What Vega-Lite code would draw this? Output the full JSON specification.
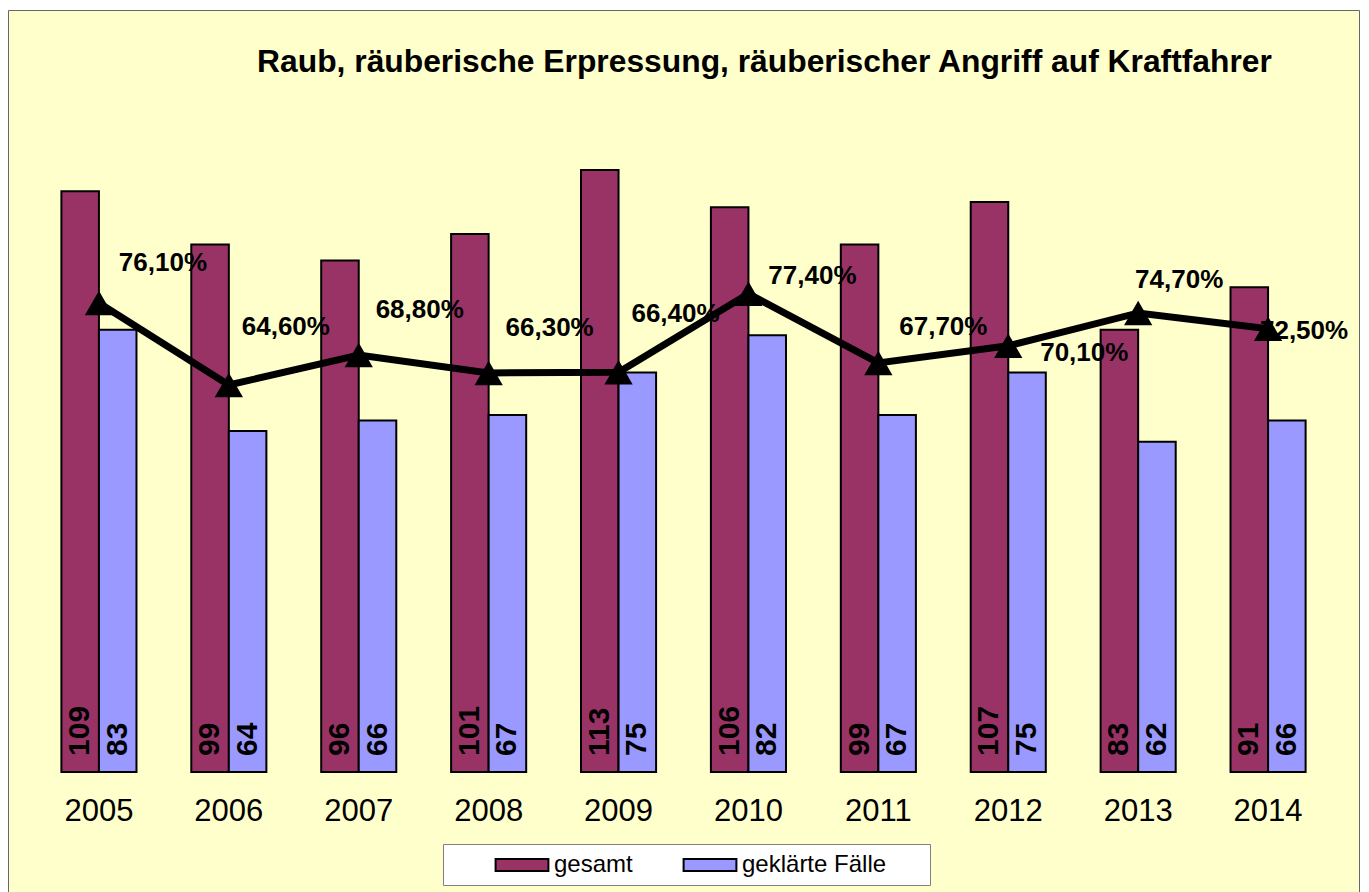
{
  "$schema": "https://vega.github.io/schema/vega-lite/v6.json",
  "width": 1351,
  "height": 882,
  "autosize": "none",
  "padding": {"left": 8, "top": 10, "right": 10, "bottom": 0},
  "background": "white",
  "title": {
    "text": "Raub, räuberische Erpressung, räuberischer Angriff auf Kraftfahrer",
    "anchor": "middle",
    "dx": 81,
    "offset": -94,
    "baseline": "alphabetic",
    "fontSize": 31.8,
    "font": "Liberation Sans",
    "fontWeight": "bold",
    "color": "black"
  },
  "config": {
    "view": {"fill": "#FFFFCC", "stroke": "#666666", "strokeWidth": 1},
    "locale": {"number": {"decimal": ",", "thousands": ".", "grouping": [3], "currency": ["", " €"]}},
    "font": "Liberation Sans"
  },
  "datasets": {
    "counts": [
      {"year": "2005", "series": "gesamt", "count": 109},
      {"year": "2005", "series": "geklärte Fälle", "count": 83},
      {"year": "2006", "series": "gesamt", "count": 99},
      {"year": "2006", "series": "geklärte Fälle", "count": 64},
      {"year": "2007", "series": "gesamt", "count": 96},
      {"year": "2007", "series": "geklärte Fälle", "count": 66},
      {"year": "2008", "series": "gesamt", "count": 101},
      {"year": "2008", "series": "geklärte Fälle", "count": 67},
      {"year": "2009", "series": "gesamt", "count": 113},
      {"year": "2009", "series": "geklärte Fälle", "count": 75},
      {"year": "2010", "series": "gesamt", "count": 106},
      {"year": "2010", "series": "geklärte Fälle", "count": 82},
      {"year": "2011", "series": "gesamt", "count": 99},
      {"year": "2011", "series": "geklärte Fälle", "count": 67},
      {"year": "2012", "series": "gesamt", "count": 107},
      {"year": "2012", "series": "geklärte Fälle", "count": 75},
      {"year": "2013", "series": "gesamt", "count": 83},
      {"year": "2013", "series": "geklärte Fälle", "count": 62},
      {"year": "2014", "series": "gesamt", "count": 91},
      {"year": "2014", "series": "geklärte Fälle", "count": 66}
    ],
    "rates": [
      {"year": "2005", "rate": 0.761},
      {"year": "2006", "rate": 0.646},
      {"year": "2007", "rate": 0.688},
      {"year": "2008", "rate": 0.663},
      {"year": "2009", "rate": 0.664},
      {"year": "2010", "rate": 0.774},
      {"year": "2011", "rate": 0.677},
      {"year": "2012", "rate": 0.701},
      {"year": "2013", "rate": 0.747},
      {"year": "2014", "rate": 0.725}
    ]
  },
  "encoding": {
    "x": {
      "field": "year",
      "type": "ordinal",
      "scale": {"paddingInner": 0, "paddingOuter": 0.2},
      "axis": {
        "title": null,
        "orient": "bottom",
        "offset": -120,
        "domain": false,
        "ticks": false,
        "grid": false,
        "labelAngle": 0,
        "labelFontSize": 31,
        "labelFont": "Liberation Sans",
        "labelColor": "black",
        "labelPadding": 24
      }
    }
  },
  "layer": [
    {
      "data": {"name": "counts"},
      "encoding": {
        "xOffset": {
          "field": "series",
          "type": "nominal",
          "scale": {"domain": ["gesamt", "geklärte Fälle"], "paddingInner": 0, "paddingOuter": 0.73}
        }
      },
      "layer": [
        {
          "mark": {"type": "bar", "stroke": "black", "strokeWidth": 2},
          "encoding": {
            "y": {
              "field": "count",
              "type": "quantitative",
              "scale": {"domain": [-22.53, 143.04], "nice": false, "zero": false},
              "axis": null
            },
            "fill": {
              "field": "series",
              "type": "nominal",
              "scale": {"domain": ["gesamt", "geklärte Fälle"], "range": ["#993366", "#9999FF"]},
              "legend": {
                "title": " ",
                "titleOrient": "right",
                "titlePadding": 36,
                "orient": "none",
                "legendX": 435,
                "legendY": 834,
                "direction": "horizontal",
                "symbolType": "M-2.2,-0.5H2.2V0.5H-2.2Z",
                "symbolSize": 576,
                "symbolOffset": 58,
                "symbolStrokeColor": "black",
                "symbolStrokeWidth": 2,
                "labelFontSize": 24,
                "labelFont": "Liberation Sans",
                "labelColor": "black",
                "labelOffset": 19,
                "columnPadding": 6,
                "padding": 8,
                "fillColor": "white",
                "strokeColor": "#808080"
              }
            }
          }
        },
        {
          "mark": {"type": "text", "angle": 270, "align": "left", "baseline": "middle", "dx": 16, "fontSize": 30, "fontWeight": "bold", "color": "black"},
          "encoding": {
            "y": {"datum": 0, "type": "quantitative"},
            "text": {"field": "count", "type": "quantitative"}
          }
        }
      ]
    },
    {
      "data": {"name": "rates"},
      "encoding": {
        "y": {
          "field": "rate",
          "type": "quantitative",
          "scale": {"domain": [-0.0647, 1.1717], "nice": false, "zero": false},
          "axis": null
        }
      },
      "layer": [
        {
          "transform": [{"filter": {"field": "year", "oneOf": ["2005"]}}],
          "mark": {"type": "text", "fontSize": 26, "fontWeight": "bold", "color": "black", "align": "center", "baseline": "middle", "dx": 64, "dy": -40},
          "encoding": {"text": {"field": "rate", "type": "quantitative", "format": ".2%"}}
        },
        {
          "transform": [{"filter": {"field": "year", "oneOf": ["2007", "2008"]}}],
          "mark": {"type": "text", "fontSize": 26, "fontWeight": "bold", "color": "black", "align": "center", "baseline": "middle", "dx": 61, "dy": -45},
          "encoding": {"text": {"field": "rate", "type": "quantitative", "format": ".2%"}}
        },
        {
          "transform": [{"filter": {"field": "year", "oneOf": ["2006", "2009"]}}],
          "mark": {"type": "text", "fontSize": 26, "fontWeight": "bold", "color": "black", "align": "center", "baseline": "middle", "dx": 57, "dy": -58},
          "encoding": {"text": {"field": "rate", "type": "quantitative", "format": ".2%"}}
        },
        {
          "transform": [{"filter": {"field": "year", "oneOf": ["2010"]}}],
          "mark": {"type": "text", "fontSize": 26, "fontWeight": "bold", "color": "black", "align": "center", "baseline": "middle", "dx": 64, "dy": -18},
          "encoding": {"text": {"field": "rate", "type": "quantitative", "format": ".2%"}}
        },
        {
          "transform": [{"filter": {"field": "year", "oneOf": ["2011"]}}],
          "mark": {"type": "text", "fontSize": 26, "fontWeight": "bold", "color": "black", "align": "center", "baseline": "middle", "dx": 65, "dy": -36},
          "encoding": {"text": {"field": "rate", "type": "quantitative", "format": ".2%"}}
        },
        {
          "transform": [{"filter": {"field": "year", "oneOf": ["2012"]}}],
          "mark": {"type": "text", "fontSize": 26, "fontWeight": "bold", "color": "black", "align": "center", "baseline": "middle", "dx": 76, "dy": 7},
          "encoding": {"text": {"field": "rate", "type": "quantitative", "format": ".2%"}}
        },
        {
          "transform": [{"filter": {"field": "year", "oneOf": ["2013"]}}],
          "mark": {"type": "text", "fontSize": 26, "fontWeight": "bold", "color": "black", "align": "center", "baseline": "middle", "dx": 41, "dy": -33},
          "encoding": {"text": {"field": "rate", "type": "quantitative", "format": ".2%"}}
        },
        {
          "transform": [{"filter": {"field": "year", "oneOf": ["2014"]}}],
          "mark": {"type": "text", "fontSize": 26, "fontWeight": "bold", "color": "black", "align": "center", "baseline": "middle", "dx": 36, "dy": 2},
          "encoding": {"text": {"field": "rate", "type": "quantitative", "format": ".2%"}}
        },
        {
          "mark": {"type": "line", "color": "black", "strokeWidth": 7},
          "encoding": {}
        },
        {
          "mark": {"type": "point", "shape": "triangle-up", "filled": true, "color": "black", "size": 800, "opacity": 1},
          "encoding": {}
        }
      ]
    }
  ],
  "resolve": {"scale": {"y": "independent"}}
}
